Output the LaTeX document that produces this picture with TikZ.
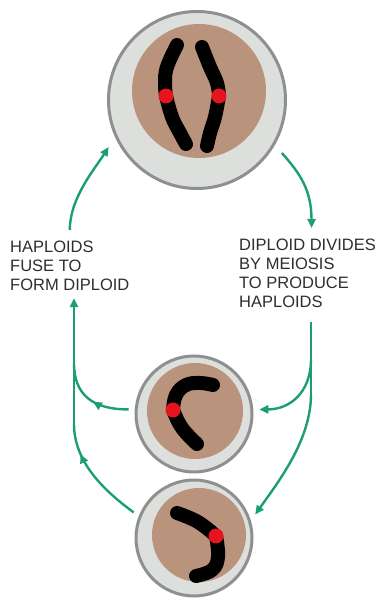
\documentclass[tikz,border=0pt]{standalone}
\usepackage{fontspec}
\setmainfont{Liberation Sans}
\usetikzlibrary{arrows.meta,decorations.markings,calc}
\definecolor{ringfill}{HTML}{DCDFDC}
\definecolor{ringline}{HTML}{8E908F}
\definecolor{cyto}{HTML}{BA937C}
\definecolor{flowgreen}{HTML}{1C9E70}
\definecolor{centro}{HTML}{E5141E}
\definecolor{labelgray}{HTML}{2E2E2E}
\begin{document}
\begin{tikzpicture}[x=1pt,y=1pt,
  cell/.style={circle,draw=ringline,fill=ringfill,line width=3pt,inner sep=0pt},
  nucleus/.style={fill=cyto},
  chromo/.style={draw=black,line width=14pt,line cap=round,line join=round},
  centromere/.style={fill=centro},
  flow/.style={color=flowgreen,line width=2.4pt},
  tip/.style={-{Triangle[length=9pt,width=8pt]}},
  midtip/.style={postaction={decorate},decoration={markings,
      mark=at position #1 with {\arrow{Triangle[length=9pt,width=8pt]}}}},
  caption/.style={align=left,inner sep=0pt,anchor=north west,text=labelgray,
      font=\fontsize{16.5}{19}\selectfont}
]
\useasboundingbox (0,0) rectangle (380,599);

% ---- diploid cell ----
\node[cell,minimum size=177pt,outer sep=11.5pt] (dip) at (197,499) {};
\fill[nucleus] (199,508) circle[radius=67];
\draw[chromo] plot[smooth,tension=0.7] coordinates {(177,554) (167,532) (165,516) (166,503)};
\draw[chromo] plot[smooth,tension=0.7] coordinates {(166,503) (172,482) (180,466) (186,455)};
\draw[chromo] plot[smooth,tension=0.7] coordinates {(202,552) (210,532) (217,516) (219,503)};
\draw[chromo] plot[smooth,tension=0.7] coordinates {(219,503) (215,482) (210,466) (207,453)};
\fill[centromere] (166,503) circle[radius=7.5];
\fill[centromere] (219,503) circle[radius=7.5];

% ---- haploid cells ----
\node[cell,minimum size=116pt,outer sep=7.5pt] (hap1) at (194,185) {};
\fill[nucleus] (195,188) circle[radius=48];
\draw[chromo] plot[smooth,tension=0.7] coordinates {(173,189) (176,204) (186,214) (200,216) (213,214)};
\draw[chromo] plot[smooth,tension=0.7] coordinates {(173,189) (182,171) (197,155)};
\fill[centromere] (173,189) circle[radius=7.5];

\node[cell,minimum size=116pt,outer sep=7.5pt] (hap2) at (194,61) {};
\fill[nucleus] (199,64) circle[radius=47];
\draw[chromo] plot[smooth,tension=0.7] coordinates {(177,86) (198,77) (216,63)};
\draw[chromo] plot[smooth,tension=0.7] coordinates {(216,63) (218,42) (212,29) (196,23)};
\fill[centromere] (216,63) circle[radius=7.5];

% ---- captions ----
\node[caption] (fuse) at (10,358) {HAPLOIDS\\FUSE TO\\FORM DIPLOID};
\node[caption] (divide) at (239,360) {DIPLOID DIVIDES\\BY MEIOSIS\\TO PRODUCE\\HAPLOIDS};

% ---- cycle arrows ----
\draw[flow,tip] ([yshift=11pt]fuse.north) .. controls +(0,32) and +(-14,-22) .. (dip.208);
\draw[flow,tip] (dip.-32) .. controls +(18,-20) and +(0,38) .. ([xshift=4pt,yshift=11pt]divide.north);

% haploids gathering on the left
\coordinate (lj) at (74,175);
\coordinate (lj1) at (74,236);
\draw[flow,tip] (lj) -- ($(fuse.south -| lj)+(0,-7)$);
\draw[flow,midtip=0.45] (hap1.176) .. controls +(-36,0) and +(0,-32) .. (lj1);
\draw[flow,midtip=0.72] (hap2.157) .. controls +(-30,22) and +(0,-38) .. (lj);

% meiosis products on the right
\coordinate (rj) at (311,205);
\coordinate (rj1) at (311,240);
\draw[flow] ($(divide.south -| rj)+(0,-14)$) -- (rj);
\draw[flow,tip] (rj) .. controls +(0,-45) and +(25,35) .. (hap2.21);
\draw[flow,tip] (rj1) .. controls +(0,-34) and +(30,0) .. (hap1.4);
\end{tikzpicture}
\end{document}
